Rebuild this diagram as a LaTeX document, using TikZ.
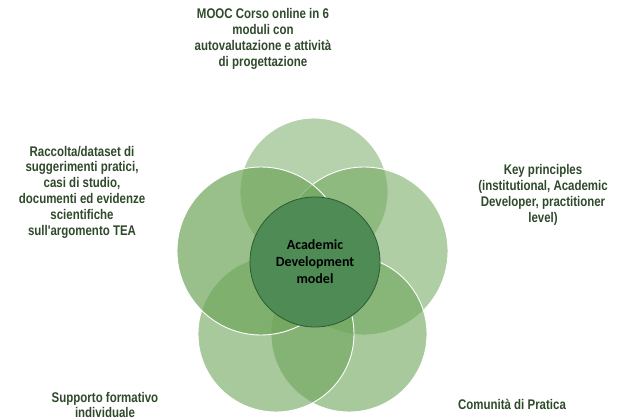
\documentclass[tikz,border=0pt]{standalone}
\usepackage{fontspec}
\setmainfont{Liberation Sans}
\newfontfamily\narrowfont[FakeStretch=0.82]{Liberation Sans}
\newfontfamily\calfont{Carlito}

\definecolor{petalgreen}{RGB}{110,165,90}
\definecolor{coregreen}{RGB}{78,139,85}
\definecolor{coreedge}{RGB}{45,90,51}
\definecolor{labelgreen}{RGB}{47,74,43}

\tikzset{
  petal/.style={circle,draw=white,line width=0.9pt,fill=petalgreen,inner sep=0pt},
  label/.style={align=center,text=labelgreen,font=\narrowfont\bfseries\fontsize{14}{15.8}\selectfont},
}

\begin{document}
\begin{tikzpicture}[x=1pt,y=-1pt]
\useasboundingbox (0,0) rectangle (622,420);

% Petals
\node[petal,fill opacity=0.5,minimum size=148] (mooc) at (314,192) {};
\node[petal,fill opacity=0.55,minimum size=168] (keys) at (364,251) {};
\node[petal,fill opacity=0.6,minimum size=156] (cop) at (349,334) {};
\node[petal,fill opacity=0.6,minimum size=156] (supp) at (276,334) {};
\node[petal,fill opacity=0.7,minimum size=168] (data) at (261,251) {};

% Core
\node[circle,draw=coreedge,line width=0.8pt,fill=coregreen,minimum size=130,inner sep=0pt,
  align=center,font=\calfont\bfseries\fontsize{14}{17}\selectfont] (core) at (315,262)
  {Academic\\Development\\model};

% Labels
\node[label] (moocl) at (263,39) {MOOC Corso online in 6\\moduli con\\autovalutazione e attività\\di progettazione};
\node[label] (datal) at (82,192) {Raccolta/dataset di\\suggerimenti pratici,\\casi di studio,\\documenti ed evidenze\\scientifiche\\sull'argomento TEA};
\node[label] (keysl) at (543,195) {Key principles\\(institutional, Academic\\Developer, practitioner\\level)};
\node[label] (suppl) at (105,405) {Supporto formativo\\individuale};
\node[label] (copl) at (512,404) {Comunità di Pratica};
\end{tikzpicture}
\end{document}
